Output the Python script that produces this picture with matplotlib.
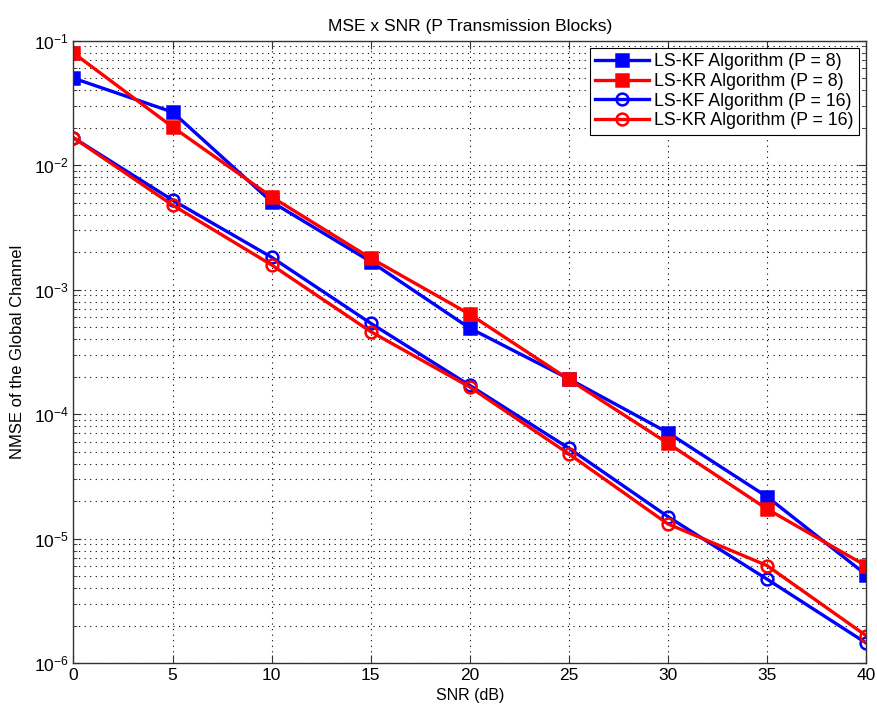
import matplotlib
matplotlib.use('Agg')
import matplotlib.pyplot as plt
from matplotlib.ticker import LogLocator, NullFormatter, MultipleLocator

plt.rcParams['font.family'] = ['Liberation Sans', 'DejaVu Sans']
plt.rcParams['mathtext.fontset'] = 'custom'
plt.rcParams['mathtext.rm'] = 'Liberation Sans'
plt.rcParams['axes.unicode_minus'] = False

# ─── data ──────────────────────────────────
snr_db = [0, 5, 10, 15, 20, 25, 30, 35, 40]
kf_p8 = [5.0e-2, 2.67e-2, 5.07e-3, 1.68e-3, 4.9e-4, 1.92e-4, 7.1e-5, 2.17e-5, 5.13e-6]
kr_p8 = [7.96e-2, 2.03e-2, 5.56e-3, 1.79e-3, 6.34e-4, 1.90e-4, 5.83e-5, 1.73e-5, 6.04e-6]
kf_p16 = [1.66e-2, 5.24e-3, 1.82e-3, 5.37e-4, 1.70e-4, 5.32e-5, 1.50e-5, 4.72e-6, 1.45e-6]
kr_p16 = [1.66e-2, 4.78e-3, 1.58e-3, 4.60e-4, 1.65e-4, 4.79e-5, 1.31e-5, 6.07e-6, 1.66e-6]

series = [
    ('LS-KF Algorithm (P = 8)', kf_p8, 'blue', 's', True),
    ('LS-KR Algorithm (P = 8)', kr_p8, 'red', 's', True),
    ('LS-KF Algorithm (P = 16)', kf_p16, 'blue', 'o', False),
    ('LS-KR Algorithm (P = 16)', kr_p16, 'red', 'o', False),
]

fig = plt.figure(figsize=(8.77, 7.12), dpi=100)
ax = fig.add_axes([0.0838, 0.0688, 0.9037, 0.874])

for label, vals, col, mk, filled in series:
    ax.semilogy(snr_db, vals, color=col, lw=2.4, marker=mk,
                markersize=8.5,
                markerfacecolor=col if filled else 'none',
                markeredgecolor=col, markeredgewidth=1.8, label=label)

ax.set_xlim(0, 40)
ax.set_ylim(1e-6, 1e-1)
ax.xaxis.set_major_locator(MultipleLocator(5))
ax.yaxis.set_major_locator(LogLocator(base=10, numticks=10))
ax.yaxis.set_minor_locator(LogLocator(base=10, subs=range(2, 10), numticks=20))
ax.yaxis.set_minor_formatter(NullFormatter())

# matlab-ish dotted grid, inward ticks on all sides
ax.grid(True, which='major', color='black', linestyle=(0, (1, 4)), lw=0.8)
ax.grid(True, which='minor', axis='y', color='black', linestyle=(0, (1, 4)), lw=0.8)
ax.tick_params(which='both', direction='in', top=True, right=True,
               labelsize=12.5, color='#333333')
ax.tick_params(which='major', length=6)
ax.tick_params(which='minor', length=3)
for s in ax.spines.values():
    s.set_color('#333333')
    s.set_linewidth(1.0)

ax.set_title('MSE x SNR (P Transmission Blocks)', fontsize=12.5, pad=7)
ax.set_xlabel('SNR (dB)', fontsize=11.5, labelpad=4)
ax.set_ylabel('NMSE of the Global Channel', fontsize=12, labelpad=6)

leg = ax.legend(loc='upper right', fontsize=12.8, handlelength=3.0,
                handletextpad=0.3, fancybox=False, framealpha=1,
                edgecolor='black', borderaxespad=0.4, labelspacing=0.15,
                borderpad=0.3)
leg.get_frame().set_linewidth(0.8)

fig.savefig('out.png', dpi=100)
